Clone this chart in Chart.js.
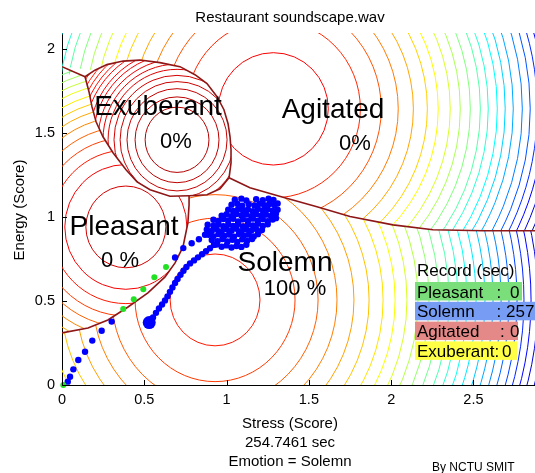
<!DOCTYPE html>
<html>
<head>
<meta charset="utf-8">
<script src="https://cdn.jsdelivr.net/npm/chart.js@4/dist/chart.umd.min.js"></script>
<style>
  html, body { margin: 0; padding: 0; background: #fff; }
  #wrap { width: 535px; height: 473px; }
</style>
</head>
<body>
<div id="wrap"><canvas id="c" width="535" height="473"></canvas></div>
<script>
// ---- emotion summary -------------------------------------------------
const emotions     = ['Pleasant', 'Solemn', 'Agitated', 'Exuberant'];
const recordSec    = [0, 257, 0, 0];
const percentShare = [0, 100, 0, 0];
const elapsedSec   = '254.7461';
const currentEmotion = 'Solemn';
const fileName     = 'Restaurant soundscape.wav';

// ---- axes ------------------------------------------------------------
const xTicks = [0, 0.5, 1, 1.5, 2, 2.5];
const yTicks = [0, 0.5, 1, 1.5, 2];
const xRange = [0, 2.874];
const yRange = [0, 2.093];

// ---- class centres (stress, energy) and contour ring radii -----------
const centerPleasant  = [0.388, 0.940];
const centerSolemn    = [0.930, 0.506];
const centerAgitated  = [1.284, 1.642];
const centerExuberant = [0.699, 1.458];

const ringsPleasant  = [0.243, 0.371, 0.456, 0.529, 0.595, 0.656, 0.711, 0.759, 0.808, 0.857,
                        0.899, 0.942, 0.984, 1.027, 1.063, 1.100, 1.136];
const ringsSolemn    = [0.273, 0.486, 0.626, 0.741, 0.844, 0.936, 1.021, 1.094, 1.166, 1.233,
                        1.300, 1.361, 1.422, 1.476, 1.531, 1.586, 1.640, 1.689, 1.738, 1.786,
                        1.835, 1.877, 1.920, 1.962, 2.005, 2.047, 2.090, 2.132];
const ringsAgitated  = [0.334, 0.529, 0.656, 0.759, 0.851, 0.936, 1.002, 1.075, 1.136, 1.197,
                        1.258, 1.306, 1.361, 1.409, 1.458, 1.513, 1.561, 1.604, 1.646, 1.689,
                        1.732, 1.774, 1.817];
const ringsExuberant = [0.194, 0.255, 0.304, 0.346, 0.383, 0.419, 0.450, 0.480, 0.510, 0.535,
                        0.565, 0.589, 0.614, 0.638, 0.662, 0.680];

// ---- decision boundaries ---------------------------------------------
const boundaryPA = [[0, 1.893], [0.140, 1.833]];
const boundaryEA = [[0.140, 1.833], [0.200, 1.872], [0.273, 1.905], [0.371, 1.926], [0.474, 1.932],
                    [0.595, 1.917], [0.717, 1.893], [0.808, 1.845], [0.881, 1.792], [0.942, 1.714],
                    [0.984, 1.637], [1.009, 1.554], [1.021, 1.476], [1.027, 1.399], [1.027, 1.321],
                    [1.015, 1.232]];
const boundaryES = [[1.015, 1.232], [0.960, 1.167], [0.881, 1.131], [0.772, 1.125]];
const boundaryEP = [[0.772, 1.125], [0.656, 1.122], [0.535, 1.161], [0.456, 1.208], [0.389, 1.280],
                    [0.310, 1.381], [0.249, 1.476], [0.207, 1.565], [0.182, 1.655], [0.164, 1.744],
                    [0.140, 1.833]];
const boundaryPS = [[0, 0.310], [0.158, 0.339], [0.279, 0.387], [0.401, 0.464], [0.522, 0.548],
                    [0.626, 0.643], [0.687, 0.726], [0.735, 0.821], [0.765, 0.964], [0.772, 1.071],
                    [0.772, 1.125]];
const boundaryAS = [[1.015, 1.232], [1.142, 1.173], [1.343, 1.116], [1.549, 1.060], [1.750, 1.002],
                    [2.011, 0.952], [2.254, 0.923], [2.558, 0.917], [2.874, 0.917]];

// ---- emotion trajectory (one point per second) -------------------------
const trackStart = [[0.035, 0.020], [0.049, 0.049], [0.069, 0.093], [0.099, 0.149], [0.140, 0.198],
                    [0.184, 0.264], [0.241, 0.323], [0.302, 0.377]];
const trackPleasant = [[0.008, 0.000], [0.372, 0.452], [0.436, 0.510], [0.494, 0.570],
                       [0.561, 0.641], [0.632, 0.701]];
const trackRise = [[0.687, 0.758], [0.737, 0.814], [0.788, 0.843], [0.832, 0.867], [0.869, 0.893]];
const trackCluster = [
  [0.94, 0.835], [0.97, 0.822], [1.00, 0.830], [1.03, 0.818], [1.06, 0.826], [1.09, 0.821], [1.12, 0.834],
  [0.91, 0.862], [0.945, 0.855], [0.975, 0.868], [1.005, 0.853], [1.035, 0.864], [1.065, 0.851],
  [1.095, 0.866], [1.125, 0.857], [1.155, 0.868],
  [0.89, 0.893], [0.92, 0.884], [0.95, 0.897], [0.985, 0.886], [1.015, 0.895], [1.045, 0.882],
  [1.075, 0.898], [1.105, 0.887], [1.135, 0.894], [1.165, 0.883], [1.19, 0.897],
  [0.88, 0.925], [0.91, 0.916], [0.94, 0.928], [0.97, 0.913], [1.00, 0.926], [1.03, 0.917],
  [1.06, 0.929], [1.09, 0.914], [1.12, 0.925], [1.15, 0.918], [1.18, 0.927], [1.215, 0.921],
  [0.885, 0.953], [0.92, 0.947], [0.95, 0.958], [0.98, 0.944], [1.01, 0.955], [1.04, 0.946],
  [1.07, 0.957], [1.10, 0.943], [1.13, 0.954], [1.16, 0.948], [1.19, 0.959], [1.22, 0.945], [1.25, 0.956],
  [0.92, 0.983], [0.95, 0.975], [0.98, 0.987], [1.01, 0.978], [1.04, 0.988], [1.07, 0.973],
  [1.10, 0.985], [1.13, 0.976], [1.16, 0.989], [1.19, 0.977], [1.22, 0.986], [1.25, 0.974],
  [1.28, 0.984], [1.30, 0.992],
  [0.97, 1.006], [1.00, 1.015], [1.03, 1.004], [1.06, 1.017], [1.09, 1.008], [1.12, 1.014],
  [1.15, 1.003], [1.18, 1.016], [1.21, 1.007], [1.24, 1.013], [1.27, 1.005], [1.30, 1.018],
  [1.01, 1.043], [1.04, 1.035], [1.07, 1.046], [1.10, 1.037], [1.13, 1.044], [1.16, 1.033],
  [1.19, 1.047], [1.22, 1.038], [1.25, 1.045], [1.28, 1.036], [1.31, 1.042],
  [1.03, 1.072], [1.065, 1.078], [1.095, 1.066], [1.135, 1.075], [1.17, 1.068], [1.20, 1.077],
  [1.23, 1.069], [1.26, 1.076], [1.29, 1.071], [1.31, 1.079],
  [1.05, 1.102], [1.09, 1.108], [1.12, 1.097], [1.18, 1.105], [1.22, 1.099], [1.255, 1.108], [1.285, 1.101]
];
const trackFall = [[0.923, 0.833], [0.899, 0.813], [0.875, 0.795], [0.851, 0.777], [0.826, 0.759],
                   [0.802, 0.741], [0.778, 0.723], [0.756, 0.702], [0.738, 0.679], [0.720, 0.655],
                   [0.702, 0.631], [0.687, 0.607], [0.671, 0.580], [0.656, 0.554], [0.641, 0.527],
                   [0.626, 0.503], [0.608, 0.479], [0.589, 0.455], [0.571, 0.429], [0.553, 0.402]];
const currentPoint = [[0.530, 0.371]];

// ---- helpers -----------------------------------------------------------
const FONT = '"Liberation Sans", Arial, sans-serif';
const toXY = arr => arr.map(p => ({ x: p[0], y: p[1] }));

function jet(t) {
  t = Math.max(0, Math.min(1, t));
  const c = v => Math.round(255 * Math.max(0, Math.min(1, v)));
  return `rgb(${c(1.5 - Math.abs(4 * t - 3))},${c(1.5 - Math.abs(4 * t - 2))},${c(1.5 - Math.abs(4 * t - 1))})`;
}
const rev = a => a.slice().reverse();

// class regions built from the boundary curves (extended past the axes)
const regionExuberant = [...boundaryEA, ...boundaryES.slice(1), ...boundaryEP.slice(1)];
const regionPleasant  = [[-0.3, 0.30], ...boundaryPS, ...boundaryEP.slice(1), [0, 1.893], [-0.3, 1.90]];
const regionAgitated  = [[-0.3, 1.90], ...rev(boundaryPA), ...boundaryEA.slice(1), ...boundaryAS.slice(1),
                         [3.3, 0.917], [3.3, 2.6], [-0.3, 2.6]];
const regionSolemn    = [[-0.3, -0.6], [-0.3, 0.30], ...boundaryPS, ...rev(boundaryES).slice(1),
                         ...boundaryAS.slice(1), [3.3, 0.917], [3.3, -0.6]];

// colormap start / step per ring for each class
const classes = [
  { center: centerSolemn,    rings: ringsSolemn,    region: regionSolemn,    t0: 0.85, dt: 0.033 },
  { center: centerPleasant,  rings: ringsPleasant,  region: regionPleasant,  t0: 0.92, dt: 0.035 },
  { center: centerAgitated,  rings: ringsAgitated,  region: regionAgitated,  t0: 0.88, dt: 0.042 },
  { center: centerExuberant, rings: ringsExuberant, region: regionExuberant, t0: 0.95, dt: 0.008 }
];

// contour rings of each class, clipped to that class's region
const contourPlugin = {
  id: 'contours',
  beforeDatasetsDraw(chart) {
    const { ctx, chartArea: ca, scales: { x, y } } = chart;
    const px = p => [x.getPixelForValue(p[0]), y.getPixelForValue(p[1])];
    ctx.save();
    ctx.beginPath();
    ctx.rect(ca.left, ca.top, ca.right - ca.left, ca.bottom - ca.top);
    ctx.clip();
    for (const cls of classes) {
      ctx.save();
      ctx.beginPath();
      cls.region.forEach((p, i) => { const [a, b] = px(p); i ? ctx.lineTo(a, b) : ctx.moveTo(a, b); });
      ctx.closePath();
      ctx.clip();
      const [cx, cy] = px(cls.center);
      cls.rings.forEach((r, n) => {
        const rx = x.getPixelForValue(cls.center[0] + r) - cx;
        const ry = cy - y.getPixelForValue(cls.center[1] + r);
        ctx.beginPath();
        ctx.ellipse(cx, cy, rx, ry, 0, 0, Math.PI * 2);
        ctx.strokeStyle = jet(cls.t0 - cls.dt * n);
        ctx.lineWidth = 1;
        ctx.stroke();
      });
      ctx.restore();
    }
    ctx.restore();
  }
};

// tick marks, labels, record table and captions
const overlayPlugin = {
  id: 'overlay',
  afterDatasetsDraw(chart) {
    const { ctx, chartArea: ca, scales: { x, y } } = chart;
    ctx.save();
    // inward tick marks
    ctx.strokeStyle = '#000';
    ctx.lineWidth = 1;
    ctx.beginPath();
    xTicks.forEach(v => { const p = Math.round(x.getPixelForValue(v)) + 0.5; ctx.moveTo(p, ca.bottom); ctx.lineTo(p, ca.bottom - 5); });
    yTicks.forEach(v => { const p = Math.round(y.getPixelForValue(v)) + 0.5; ctx.moveTo(ca.left, p); ctx.lineTo(ca.left + 5, p); });
    ctx.stroke();

    // class names and shares
    ctx.fillStyle = '#000';
    ctx.textAlign = 'center';
    ctx.textBaseline = 'alphabetic';
    const names = [
      { t: emotions[3], x: 158, y: 115 }, { t: emotions[2], x: 333, y: 118 },
      { t: emotions[0], x: 124, y: 235 }, { t: emotions[1], x: 285, y: 271 }
    ];
    ctx.font = '28px ' + FONT;
    names.forEach(n => ctx.fillText(n.t, n.x, n.y));
    ctx.font = '22px ' + FONT;
    ctx.fillText(percentShare[3] + '%', 176, 148);
    ctx.fillText(percentShare[2] + '%', 355, 150);
    ctx.fillText(percentShare[0] + ' %', 120, 267);
    ctx.fillText(percentShare[1] + ' %', 295, 295);

    // record table
    ctx.textAlign = 'left';
    ctx.font = '17px ' + FONT;
    ctx.fillText('Record (sec)', 417, 276);
    const rowBg = ['rgb(122,222,122)', 'rgb(118,156,244)', 'rgb(228,136,136)', 'rgb(255,255,70)'];
    const colonX = [496.5, 496.5, 500, 494.5];
    const valueX = [510, 506, 510, 502];
    const boxRight = [522, 540, 518, 517];
    emotions.forEach((e, i) => {
      const top = 282 + i * 19.8;
      ctx.fillStyle = rowBg[i];
      ctx.fillRect(415, top, boxRight[i] - 415, 18.5);
      ctx.fillStyle = '#000';
      ctx.fillText(e, 417, top + 15.5);
      ctx.fillText(':', colonX[i], top + 15.5);
      ctx.fillText(String(recordSec[i]), valueX[i], top + 15.5);
    });
    ctx.restore();
  },
  afterDraw(chart) {
    const { ctx } = chart;
    ctx.save();
    ctx.fillStyle = '#000';
    ctx.textAlign = 'center';
    ctx.textBaseline = 'alphabetic';
    ctx.font = '15px ' + FONT;
    ctx.fillText(fileName, 290, 22);
    ctx.fillText('Stress (Score)', 290, 428);
    ctx.fillText(elapsedSec + ' sec', 290, 447);
    ctx.fillText('Emotion = ' + currentEmotion, 290, 466);
    ctx.save();
    ctx.translate(24, 210);
    ctx.rotate(-Math.PI / 2);
    ctx.fillText('Energy (Score)', 0, 0);
    ctx.restore();
    ctx.textAlign = 'left';
    ctx.font = '12px ' + FONT;
    ctx.fillText('By NCTU SMIT', 432, 471);
    ctx.restore();
  }
};

const boundaryStyle = { type: 'line', showLine: true, pointRadius: 0, borderColor: '#8e1616',
                        borderWidth: 1.6, fill: false, tension: 0 };
const dotStyle = { pointBorderWidth: 0, borderWidth: 0, showLine: false, clip: false };

new Chart(document.getElementById('c'), {
  type: 'scatter',
  data: {
    datasets: [
      { ...dotStyle, label: 'Now', data: toXY(currentPoint), pointRadius: 6.5, backgroundColor: '#0000ff' },
      { ...dotStyle, label: 'Pleasant track', data: toXY(trackPleasant), pointRadius: 3, backgroundColor: '#22e022' },
      { ...dotStyle, label: 'Solemn track',
        data: toXY([...trackStart, ...trackRise, ...trackCluster, ...trackFall]),
        pointRadius: 3.2, backgroundColor: '#0000ff' },
      { ...boundaryStyle, label: 'P|A', data: toXY(boundaryPA) },
      { ...boundaryStyle, label: 'E|A', data: toXY(boundaryEA) },
      { ...boundaryStyle, label: 'E|S', data: toXY(boundaryES) },
      { ...boundaryStyle, label: 'E|P', data: toXY(boundaryEP) },
      { ...boundaryStyle, label: 'P|S', data: toXY(boundaryPS) },
      { ...boundaryStyle, label: 'A|S', data: toXY(boundaryAS) }
    ]
  },
  options: {
    responsive: false,
    animation: false,
    events: [],
    layout: { autoPadding: false, padding: { top: 33, left: 0, right: 0, bottom: 0 } },
    plugins: { legend: { display: false }, tooltip: { enabled: false }, title: { display: false } },
    scales: {
      x: {
        type: 'linear', min: xRange[0], max: xRange[1],
        afterFit(s) { s.height = 88; s.paddingLeft = 0; s.paddingRight = 0; },
        afterBuildTicks(s) { s.ticks = xTicks.map(v => ({ value: v })); },
        ticks: { font: { family: FONT, size: 14.5 }, color: '#000', padding: 6, maxRotation: 0,
                 autoSkip: false, callback: v => String(v) },
        grid: { display: false, drawTicks: false },
        border: { display: true, color: '#000', width: 1 }
      },
      y: {
        type: 'linear', min: yRange[0], max: yRange[1],
        afterFit(s) { s.width = 62; s.paddingTop = 0; s.paddingBottom = 0; },
        afterBuildTicks(s) { s.ticks = yTicks.map(v => ({ value: v })); },
        ticks: { font: { family: FONT, size: 14.5 }, color: '#000', padding: 7,
                 autoSkip: false, callback: v => String(v) },
        grid: { display: false, drawTicks: false },
        border: { display: true, color: '#000', width: 1 }
      }
    }
  },
  plugins: [contourPlugin, overlayPlugin]
});
</script>
</body>
</html>
